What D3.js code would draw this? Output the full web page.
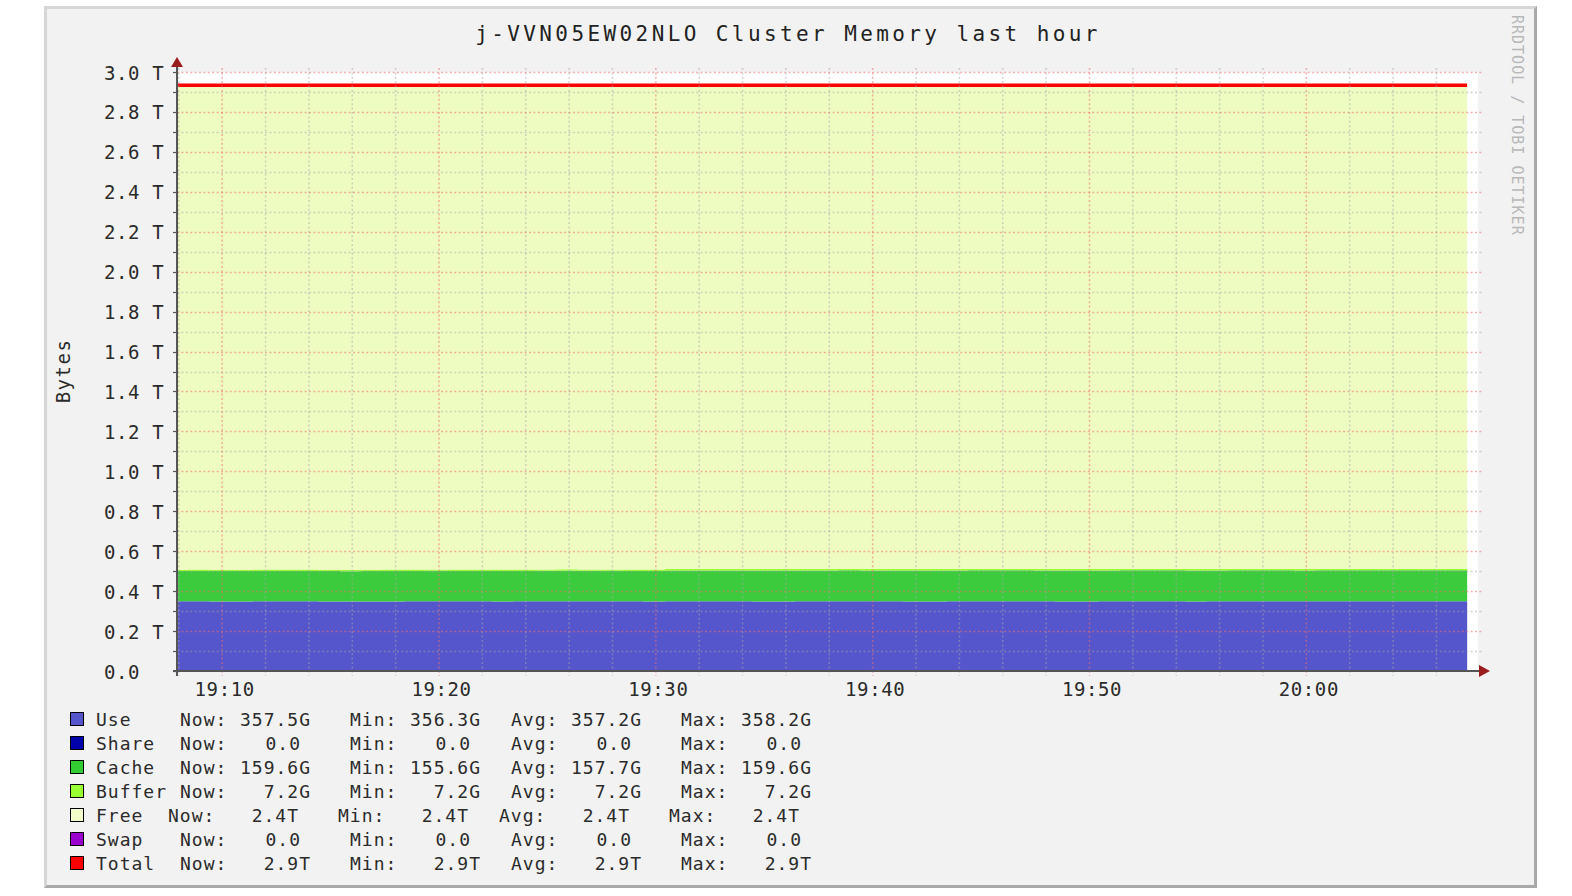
<!DOCTYPE html>
<html><head><meta charset="utf-8">
<script src="https://cdn.jsdelivr.net/npm/d3@7"></script>
<style>
html,body{margin:0;padding:0;background:#fff;}
svg{display:block;}
text{font-family:"DejaVu Sans Mono",monospace;}
</style>
</head><body>
<svg id="chart" width="1572" height="896"></svg>
<script>
// ---------------- DATA ----------------
const chartTitle = "j-VVN05EW02NLO Cluster Memory last hour";
const yAxisTitle = "Bytes";
const watermark = "RRDTOOL / TOBI OETIKER";

const sampleTimes = [
 "19:07:25","19:08:25","19:09:25","19:10:25","19:11:25","19:12:25","19:13:25","19:14:25","19:15:25","19:16:25",
 "19:17:25","19:18:25","19:19:25","19:20:25","19:21:25","19:22:25","19:23:25","19:24:25","19:25:25","19:26:25",
 "19:27:25","19:28:25","19:29:25","19:30:25","19:31:25","19:32:25","19:33:25","19:34:25","19:35:25","19:36:25",
 "19:37:25","19:38:25","19:39:25","19:40:25","19:41:25","19:42:25","19:43:25","19:44:25","19:45:25","19:46:25",
 "19:47:25","19:48:25","19:49:25","19:50:25","19:51:25","19:52:25","19:53:25","19:54:25","19:55:25","19:56:25",
 "19:57:25","19:58:25","19:59:25","20:00:25","20:01:25","20:02:25","20:03:25","20:04:25","20:05:25","20:06:25",
 "20:07:25"
];
// values in GB (base 1024)
const useValues = [
 357.1,357.3,357.0,356.8,357.2,357.5,357.4,356.9,356.3,356.7,
 357.0,357.3,357.6,357.2,357.1,356.9,357.4,357.8,358.2,357.9,
 357.5,357.2,357.0,357.3,357.6,357.4,357.1,356.8,357.0,357.2,
 357.5,357.7,357.4,357.1,356.9,357.0,357.3,357.6,357.8,357.5,
 357.2,357.0,356.8,357.1,357.4,357.6,357.3,357.0,357.2,357.5,
 357.7,357.4,357.1,357.3,357.6,357.8,357.5,357.2,357.4,357.6,
 357.5
];
const shareValues = [
 0,0,0,0,0,0,0,0,0,0, 0,0,0,0,0,0,0,0,0,0, 0,0,0,0,0,0,0,0,0,0,
 0,0,0,0,0,0,0,0,0,0, 0,0,0,0,0,0,0,0,0,0, 0,0,0,0,0,0,0,0,0,0, 0
];
const cacheValues = [
 155.6,155.6,155.7,155.7,155.7,155.8,155.8,155.8,155.8,155.8,
 155.8,155.9,155.9,155.9,155.9,155.9,155.9,155.9,156.0,156.0,
 156.0,156.0,156.0,158.4,158.4,158.4,158.5,158.5,158.5,158.5,
 158.5,158.6,158.6,158.6,158.6,158.6,158.6,158.6,158.7,158.7,
 158.7,158.7,158.7,158.7,158.8,158.8,158.8,158.8,158.8,158.9,
 158.9,158.9,158.9,159.4,159.4,159.5,159.5,159.5,159.6,159.6,
 159.6
];
const bufferValues = [
 7.2,7.2,7.2,7.2,7.2,7.2,7.2,7.2,7.2,7.2, 7.2,7.2,7.2,7.2,7.2,7.2,7.2,7.2,7.2,7.2,
 7.2,7.2,7.2,7.2,7.2,7.2,7.2,7.2,7.2,7.2, 7.2,7.2,7.2,7.2,7.2,7.2,7.2,7.2,7.2,7.2,
 7.2,7.2,7.2,7.2,7.2,7.2,7.2,7.2,7.2,7.2, 7.2,7.2,7.2,7.2,7.2,7.2,7.2,7.2,7.2,7.2, 7.2
];
const freeValues = [
 2483.7,2483.7,2483.7,2483.7,2483.7,2483.6,2483.6,2483.6,2483.6,2483.6,
 2483.6,2483.5,2483.5,2483.5,2483.5,2483.5,2483.5,2483.5,2483.4,2483.4,
 2483.4,2483.4,2483.4,2481.0,2481.0,2481.0,2480.9,2480.9,2480.9,2480.9,
 2480.9,2480.8,2480.8,2480.8,2480.8,2480.8,2480.8,2480.8,2480.7,2480.7,
 2480.7,2480.7,2480.7,2480.7,2480.6,2480.6,2480.6,2480.6,2480.6,2480.5,
 2480.5,2480.5,2480.5,2480.0,2480.0,2479.9,2479.9,2479.9,2479.8,2479.8,
 2479.8
];
const swapValues = [
 0,0,0,0,0,0,0,0,0,0, 0,0,0,0,0,0,0,0,0,0, 0,0,0,0,0,0,0,0,0,0,
 0,0,0,0,0,0,0,0,0,0, 0,0,0,0,0,0,0,0,0,0, 0,0,0,0,0,0,0,0,0,0, 0
];
const totalValues = [
 3004,3004,3004,3004,3004,3004,3004,3004,3004,3004, 3004,3004,3004,3004,3004,3004,3004,3004,3004,3004,
 3004,3004,3004,3004,3004,3004,3004,3004,3004,3004, 3004,3004,3004,3004,3004,3004,3004,3004,3004,3004,
 3004,3004,3004,3004,3004,3004,3004,3004,3004,3004, 3004,3004,3004,3004,3004,3004,3004,3004,3004,3004, 3004
];

const yTickValues = [0,0.2,0.4,0.6,0.8,1.0,1.2,1.4,1.6,1.8,2.0,2.2,2.4,2.6,2.8,3.0];
const yTickLabels = ["0.0","0.2 T","0.4 T","0.6 T","0.8 T","1.0 T","1.2 T","1.4 T","1.6 T","1.8 T","2.0 T","2.2 T","2.4 T","2.6 T","2.8 T","3.0 T"];
const xTickTimes = ["19:10:00","19:20:00","19:30:00","19:40:00","19:50:00","20:00:00"];
const xDomain = ["19:07:55","20:07:55"];

const legendNames  = ["Use","Share","Cache","Buffer","Free","Swap","Total"];
const legendColors = ["#5555cc","#0000aa","#33cc33","#99ff33","#f2fcc8","#9900cc","#ff0000"];
const legendNow = ["357.5G","0.0","159.6G","7.2G","2.4T","0.0","2.9T"];
const legendMin = ["356.3G","0.0","155.6G","7.2G","2.4T","0.0","2.9T"];
const legendAvg = ["357.2G","0.0","157.7G","7.2G","2.4T","0.0","2.9T"];
const legendMax = ["358.2G","0.0","159.6G","7.2G","2.4T","0.0","2.9T"];

// ---------------- DRAW ----------------
const svg = d3.select("#chart");
const parse = d3.timeParse("%H:%M:%S");

// frame
svg.append("rect").attr("x",44).attr("y",6).attr("width",1493).attr("height",882).attr("fill","#a9a9a9");
svg.append("polygon").attr("points","44,6 1537,6 1534,9 47,9 47,885 44,888").attr("fill","#d6d6d6");
svg.append("rect").attr("x",47).attr("y",9).attr("width",1487).attr("height",876).attr("fill","#f2f2f2");

const L = 177, R = 1478, T = 72, B = 671;
const x = d3.scaleTime().domain(xDomain.map(parse)).range([L, R]);
const y = d3.scaleLinear().domain([0, 3]).range([B, T]);
const gb = v => y(v / 1024);

// canvas
svg.append("rect").attr("x",L).attr("y",T).attr("width",R-L).attr("height",B-T).attr("fill","#ffffff");
svg.append("clipPath").attr("id","clip").append("rect").attr("x",L).attr("y",T-10).attr("width",R-L).attr("height",B-T+10);

const rows = sampleTimes.map((t,i)=>({
  t: parse(t), use: useValues[i], share: shareValues[i], cache: cacheValues[i],
  buffer: bufferValues[i], free: freeValues[i], swap: swapValues[i], total: totalValues[i]
}));
const keys = ["use","share","cache","buffer","free","swap"];
const keyColor = {use:"#5555cc",share:"#0000aa",cache:"#3ccb3c",buffer:"#99ff33",free:"#eefcc2",swap:"#9900cc"};
const stacked = d3.stack().keys(keys)(rows);
const area = d3.area().curve(d3.curveStepAfter)
  .x(d=>x(d.data.t)).y0(d=>gb(d[0])).y1(d=>gb(d[1]));
const plot = svg.append("g").attr("clip-path","url(#clip)");
plot.selectAll("path.area").data(stacked).join("path")
  .attr("class","area").attr("d",area).attr("fill",d=>keyColor[d.key]);
const line = d3.line().curve(d3.curveStepAfter).x(d=>x(d.t)).y(d=>gb(d.total));
plot.append("path").datum(rows).attr("d",line).attr("fill","none").attr("stroke","#ff0000").attr("stroke-width",3.5);

// grid
const grid = svg.append("g");
const minorY = y.ticks(30).filter(v => !yTickValues.some(t => Math.abs(t-v) < 1e-6));
grid.selectAll("line.hmin").data(minorY).join("line")
  .attr("x1",L).attr("x2",R+5).attr("y1",d=>Math.round(y(d))+0.5).attr("y2",d=>Math.round(y(d))+0.5)
  .attr("stroke","#a8a8a8").attr("stroke-opacity",0.5).attr("stroke-width",1.5).attr("stroke-dasharray","2,2.4");
const xDom = x.domain();
const minorX = d3.timeMinute.every(2).range(xDom[0], xDom[1]).filter(d => d.getMinutes() % 10 !== 0);
grid.selectAll("line.vmin").data(minorX).join("line")
  .attr("x1",d=>x(d)).attr("x2",d=>x(d)).attr("y1",T-4).attr("y2",B+5)
  .attr("stroke","#a8a8a8").attr("stroke-opacity",0.5).attr("stroke-width",1.5).attr("stroke-dasharray","2,2.4");
grid.selectAll("line.hmaj").data(yTickValues.filter(v=>v>0)).join("line")
  .attr("x1",L).attr("x2",R+5).attr("y1",d=>Math.round(y(d))+0.5).attr("y2",d=>Math.round(y(d))+0.5)
  .attr("stroke","#f07070").attr("stroke-opacity",0.55).attr("stroke-width",1.5).attr("stroke-dasharray","2,2.4");
grid.selectAll("line.vmaj").data(xTickTimes.map(parse)).join("line")
  .attr("x1",d=>x(d)).attr("x2",d=>x(d)).attr("y1",T-4).attr("y2",B+5)
  .attr("stroke","#f07070").attr("stroke-opacity",0.55).attr("stroke-width",1.5).attr("stroke-dasharray","2,2.4");
// left tick marks
grid.selectAll("line.lt").data(y.ticks(30)).join("line")
  .attr("x1",L-4).attr("x2",L).attr("y1",d=>Math.round(y(d))+0.5).attr("y2",d=>Math.round(y(d))+0.5)
  .attr("stroke","#555").attr("stroke-width",1.2);

// axes lines + arrows
svg.append("line").attr("x1",L).attr("x2",L).attr("y1",B+5).attr("y2",T-8).attr("stroke","#555").attr("stroke-width",2);
svg.append("line").attr("x1",L-4).attr("x2",R+4).attr("y1",B).attr("y2",B).attr("stroke","#555").attr("stroke-width",2);
svg.append("polygon").attr("points",`${L-6},${T-5} ${L+6},${T-5} ${L},${T-15}`).attr("fill","#9b1c1c");
svg.append("polygon").attr("points",`${R+1},${B-6} ${R+1},${B+6} ${R+12},${B}`).attr("fill","#9b1c1c");

// y axis labels via d3 axis
const yAxis = d3.axisLeft(y).tickValues(yTickValues).tickFormat((d,i)=>yTickLabels[i]).tickSize(0);
const gy = svg.append("g").attr("transform",`translate(${L},0)`).call(yAxis);
gy.select(".domain").remove();
gy.selectAll("text").attr("text-anchor","start").attr("x",104-L).attr("dy","0.37em")
  .attr("font-family","DejaVu Sans Mono").attr("font-size",19).attr("letter-spacing","0.6px").attr("fill","#2b2b2b");

// x axis labels via d3 axis
const xAxis = d3.axisBottom(x).tickValues(xTickTimes.map(parse)).tickFormat(d3.timeFormat("%H:%M")).tickSize(0);
const gx = svg.append("g").attr("transform",`translate(0,${B})`).call(xAxis);
gx.select(".domain").remove();
gx.selectAll("text").attr("y",25).attr("dy",0).attr("x",2)
  .attr("font-family","DejaVu Sans Mono").attr("font-size",19).attr("letter-spacing","0.6px").attr("fill","#2b2b2b");

// titles
svg.append("text").attr("x",788).attr("y",41).attr("text-anchor","middle")
  .attr("font-size",21).attr("letter-spacing","3.4px").attr("fill","#222").text(chartTitle);
svg.append("text").attr("transform","translate(70,371) rotate(-90)").attr("text-anchor","middle")
  .attr("font-size",19).attr("letter-spacing","1.5px").attr("fill","#2b2b2b").text(yAxisTitle);
svg.append("text").attr("transform","translate(1512,15) rotate(90)").attr("text-anchor","start")
  .attr("font-size",15).attr("letter-spacing","1px").attr("fill","#b8b8b8").text(watermark);

// legend
const colX = [180,350,511,681];
const colLab = ["Now:","Min:","Avg:","Max:"];
const colVals = [legendNow, legendMin, legendAvg, legendMax];
const lg = svg.append("g").attr("font-size",18).attr("fill","#2b2b2b");
legendNames.forEach((name,i)=>{
  const cy = 719 + 24*i;
  lg.append("rect").attr("x",70.5).attr("y",cy-6.5).attr("width",13).attr("height",13)
    .attr("fill",legendColors[i]).attr("stroke","#000").attr("stroke-width",1);
  lg.append("text").attr("x",96).attr("y",cy+6.5).attr("letter-spacing","1px").text(name);
  const shift = name === "Free" ? -12 : 0;
  colX.forEach((cx,j)=>{
    const xx = cx + shift;
    lg.append("text").attr("x",xx).attr("y",cy+6.5).attr("letter-spacing","1px").text(colLab[j]);
    const v = colVals[j][i];
    const hasUnit = /[A-Za-z]$/.test(v);
    lg.append("text").attr("x",xx + (hasUnit ? 131 : 121)).attr("y",cy+6.5)
      .attr("text-anchor","end").attr("letter-spacing","1px").text(v);
  });
});
</script>
</body></html>
